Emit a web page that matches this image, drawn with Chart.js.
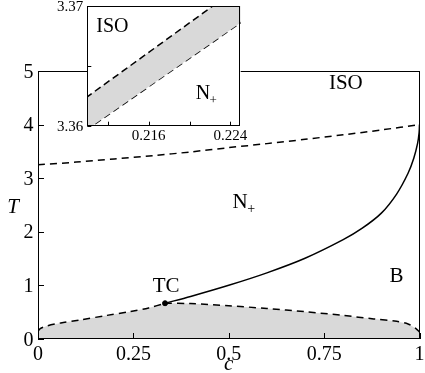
<!DOCTYPE html>
<html><head><meta charset="utf-8">
<script src="https://cdn.jsdelivr.net/npm/chart.js@4/dist/chart.umd.min.js"></script>
<style>
html,body{margin:0;padding:0;background:#fff;}
#wrap{position:relative;width:425px;height:373px;overflow:hidden;background:#fff;}
#main{position:absolute;left:0;top:0;}
#inset{position:absolute;left:0;top:-20px;}
.pre{position:absolute;left:-999px;top:0;font-family:"Liberation Serif";}
</style></head><body>
<span class="pre">0.25 ISO</span><span class="pre" style="font-style:italic">T c</span>
<div id="wrap">
<canvas id="main" width="425" height="373"></canvas>
<canvas id="inset" width="250" height="170"></canvas>
</div>
<script>
// ---------- main chart data ----------
const xTicks = [0, 0.25, 0.5, 0.75, 1];
const xTickLabels = ['0', '0.25', '0.5', '0.75', '1'];
const yTicks = [0, 1, 2, 3, 4, 5];
const yTickLabels = ['0', '1', '2', '3', '4', '5'];

// upper dashed line (ISO / N+ boundary)
const upperC = [0, 0.1, 0.2, 0.3, 0.4, 0.5, 0.6, 0.7, 0.8, 0.9, 1.0];
const upperT = [3.25, 3.30, 3.36, 3.42, 3.49, 3.57, 3.645, 3.725, 3.81, 3.90, 4.00];

// solid line (N+ / B boundary) from TC to c = 1
const solidC = [0.333, 0.4, 0.5, 0.6, 0.7, 0.8, 0.85, 0.9, 0.94, 0.97, 0.985, 0.995, 0.999, 1.0];
const solidT = [0.667, 0.794, 1.002, 1.234, 1.506, 1.853, 2.067, 2.348, 2.704, 3.092, 3.372, 3.649, 3.85, 4.0];

// lower dashed line, left of TC
const lowLeftC = [0, 0.005, 0.023, 0.06, 0.11, 0.18, 0.241, 0.29, 0.333];
const lowLeftT = [0.137, 0.19, 0.243, 0.30, 0.355, 0.44, 0.51, 0.58, 0.667];
// lower dashed line, right of TC
const lowRightC = [0.333, 0.4, 0.5, 0.6, 0.7, 0.8, 0.88, 0.94, 0.97, 0.99, 1.0];
const lowRightT = [0.667, 0.66, 0.62, 0.57, 0.51, 0.44, 0.375, 0.33, 0.28, 0.2, 0.13];

// tricritical point
const tcC = [0.333];
const tcT = [0.667];

// region labels [text, c, T]
const mainLabels = [['ISO', 0.807, 4.77], ['B', 0.94, 1.165], ['TC', 0.336, 0.98]];
const mainNplus = [0.53, 2.57];

// ---------- inset data ----------
const insetXTicks = [0.212, 0.216, 0.220, 0.224];
const insetXTickLabels = ['', '0.216', '', '0.224'];
const insetYTicks = [3.36, 3.365, 3.37];
const insetYTickLabels = ['3.36', '', '3.37'];
const insetUpperC = [0.209, 0.226];
const insetUpperT = [3.3618, 3.3723];
const insetLowerC = [0.209, 0.226];
const insetLowerT = [3.3591, 3.3692];
const insetLabels = [['ISO', 0.21245, 3.3683]];
const insetNplus = [0.2213, 3.3628];

const FONT = '"Liberation Serif", "DejaVu Serif", serif';
const GRAY = '#d9d9d9';
const pts = (cs, ts) => cs.map((c, i) => ({x: c, y: ts[i]}));

// frame, inward tick marks and tick labels
function framePlugin(cfg) {
  return {
    id: 'frame',
    beforeDatasetsDraw(chart) {
      if (!cfg.bg) return;
      const a = chart.chartArea, ctx = chart.ctx;
      ctx.save(); ctx.fillStyle = '#fff';
      ctx.fillRect(a.left, a.top, a.right - a.left, a.bottom - a.top);
      ctx.restore();
    },
    afterDatasetsDraw(chart) {
      const a = chart.chartArea, ctx = chart.ctx;
      const xs = chart.scales.x, ys = chart.scales.y;
      ctx.save();
      ctx.strokeStyle = '#000'; ctx.lineWidth = 1;
      ctx.beginPath();
      xs.ticks.forEach(t => {
        const px = Math.round(xs.getPixelForValue(t.value)) + 0.5;
        ctx.moveTo(px, a.bottom); ctx.lineTo(px, a.bottom - cfg.tickLen);
      });
      ys.ticks.forEach(t => {
        const py = Math.round(ys.getPixelForValue(t.value)) + 0.5;
        ctx.moveTo(a.left, py); ctx.lineTo(a.left + cfg.tickLen, py);
      });
      ctx.stroke();
      ctx.strokeRect(Math.round(a.left) + 0.5, Math.round(a.top) + 0.5,
        Math.round(a.right - a.left) - 1, Math.round(a.bottom - a.top) - 1);
      // tick labels
      ctx.fillStyle = '#000';
      ctx.font = cfg.fontSize + 'px ' + FONT;
      ctx.textBaseline = 'alphabetic';
      ctx.textAlign = 'center';
      xs.ticks.forEach((t, i) => {
        ctx.fillText(cfg.xLabels[i], xs.getPixelForValue(t.value), a.bottom + cfg.xOff);
      });
      ctx.textAlign = 'right';
      ys.ticks.forEach((t, i) => {
        ctx.fillText(cfg.yLabels[i], a.left - cfg.yGap, ys.getPixelForValue(t.value) + cfg.yOff);
      });
      ctx.restore();
    }
  };
}

function labelPlugin(labels, nplus, size, subSize, axisTitles) {
  return {
    id: 'labels',
    afterDraw(chart) {
      const ctx = chart.ctx, xs = chart.scales.x, ys = chart.scales.y, a = chart.chartArea;
      ctx.save();
      ctx.fillStyle = '#000';
      ctx.textAlign = 'center'; ctx.textBaseline = 'middle';
      ctx.font = size + 'px ' + FONT;
      labels.forEach(([t, c, v]) => ctx.fillText(t, xs.getPixelForValue(c), ys.getPixelForValue(v)));
      // N+
      const nx = xs.getPixelForValue(nplus[0]), ny = ys.getPixelForValue(nplus[1]);
      ctx.textBaseline = 'alphabetic';
      const nb = ny + size * 0.33;
      ctx.fillText('N', nx, nb);
      const nw = ctx.measureText('N').width;
      ctx.font = subSize + 'px ' + FONT;
      ctx.textAlign = 'left';
      ctx.fillText('+', nx + nw / 2 - 0.5, nb + 5);
      if (axisTitles) {
        ctx.font = 'italic 21px ' + FONT;
        ctx.textAlign = 'center'; ctx.textBaseline = 'alphabetic';
        ctx.fillText('T', 13, 213);
        ctx.fillText('c', (a.left + a.right) / 2, 370);
      }
      ctx.restore();
    }
  };
}

const lineBase = {showLine: true, borderColor: '#000', pointRadius: 0, borderWidth: 1.5};
const fillC = lowLeftC.concat(lowRightC.slice(1));
const fillT = lowLeftT.concat(lowRightT.slice(1));
const hiddenScale = {grid: {display: false}, border: {display: false}};

function build() {
new Chart(document.getElementById('main'), {
  type: 'scatter',
  data: {datasets: [
    {data: pts(tcC, tcT), pointRadius: 2.5, pointBackgroundColor: '#000', pointBorderColor: '#000', showLine: false},
    Object.assign({data: pts(solidC, solidT), tension: 0.3}, lineBase),
    Object.assign({data: pts(upperC, upperT), borderDash: [7, 5], tension: 0.3}, lineBase),
    Object.assign({data: pts(lowLeftC, lowLeftT), borderDash: [7, 5], tension: 0.3}, lineBase),
    Object.assign({data: pts(lowRightC, lowRightT), borderDash: [7, 5], tension: 0.3}, lineBase),
    {data: pts(fillC, fillT), showLine: true, borderWidth: 0, borderColor: 'rgba(0,0,0,0)', pointRadius: 0, fill: 'origin', backgroundColor: GRAY, tension: 0}
  ]},
  options: {
    responsive: false, animation: false, devicePixelRatio: 1,
    layout: {padding: {left: 0, top: 71, right: 5.5, bottom: 0}},
    plugins: {legend: {display: false}, tooltip: {enabled: false}},
    scales: {
      x: Object.assign({
        type: 'linear', min: 0, max: 1,
        afterBuildTicks: s => { s.ticks = xTicks.map(v => ({value: v})); },
        ticks: {display: false},
        afterFit: s => { s.height = 34; }
      }, hiddenScale),
      y: Object.assign({
        type: 'linear', min: 0, max: 5,
        afterBuildTicks: s => { s.ticks = yTicks.map(v => ({value: v})); },
        ticks: {display: false},
        afterFit: s => { s.width = 38; }
      }, hiddenScale)
    }
  },
  plugins: [
    framePlugin({bg: false, tickLen: 6, fontSize: 20, xLabels: xTickLabels, yLabels: yTickLabels, xOff: 21, yGap: 4.5, yOff: 6.5}),
    labelPlugin(mainLabels, mainNplus, 21, 14, true)
  ]
});

new Chart(document.getElementById('inset'), {
  type: 'scatter',
  data: {datasets: [
    Object.assign({data: pts(insetUpperC, insetUpperT), borderDash: [7, 4], fill: '+1', backgroundColor: GRAY}, lineBase),
    Object.assign({data: pts(insetLowerC, insetLowerT), borderDash: [7, 4]}, lineBase)
  ]},
  options: {
    responsive: false, animation: false, devicePixelRatio: 1,
    layout: {padding: {left: 0, top: 26, right: 9.3, bottom: 0}},
    plugins: {legend: {display: false}, tooltip: {enabled: false}},
    scales: {
      x: Object.assign({
        type: 'linear', min: 0.21, max: 0.225,
        afterBuildTicks: s => { s.ticks = insetXTicks.map(v => ({value: v})); },
        ticks: {display: false},
        afterFit: s => { s.height = 170 - 145.7; }
      }, hiddenScale),
      y: Object.assign({
        type: 'linear', min: 3.36, max: 3.37,
        afterBuildTicks: s => { s.ticks = insetYTicks.map(v => ({value: v})); },
        ticks: {display: false},
        afterFit: s => { s.width = 87.3; }
      }, hiddenScale)
    }
  },
  plugins: [
    framePlugin({bg: true, tickLen: 4, fontSize: 15, xLabels: insetXTickLabels, yLabels: insetYTickLabels, xOff: 14.5, yGap: 4, yOff: 5}),
    labelPlugin(insetLabels, insetNplus, 20, 13, false)
  ]
});
}

const loads = [
  document.fonts.load('20px "Liberation Serif"'),
  document.fonts.load('italic 21px "Liberation Serif"')
];
Promise.all(loads).then(build, build);
</script>
</body></html>
